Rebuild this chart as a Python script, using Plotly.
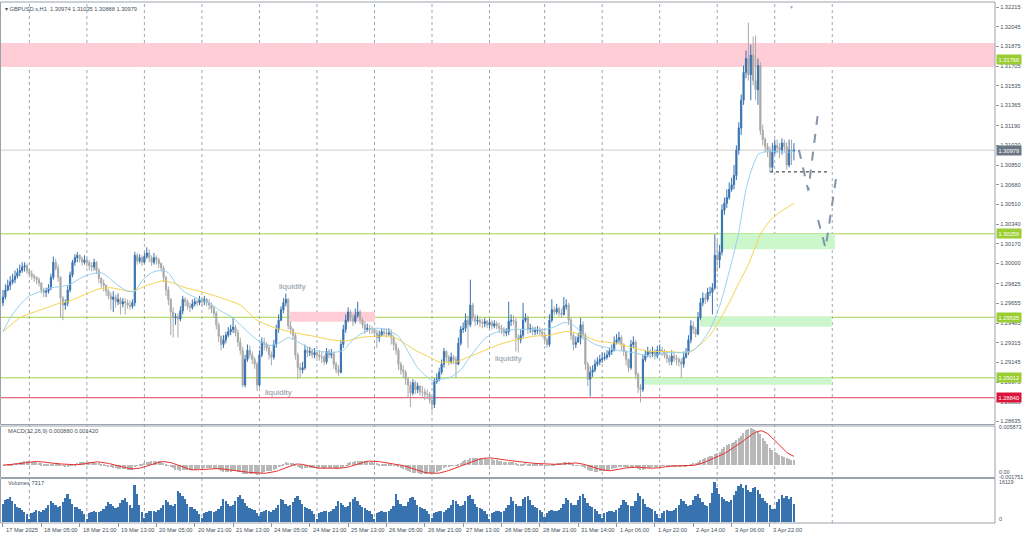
import plotly.graph_objects as go
import pandas as pd

# ---------------- data ----------------
first_open = 1.2966
close = [
 1.2971,1.2977,1.2981,1.2984,1.2986,1.2989,1.2992,1.2994,1.2997,1.2998,
 1.2994,1.2991,1.2989,1.2988,1.2986,1.2983,1.2977,1.2975,1.2976,1.2979,
 1.2988,1.3001,1.2996,1.2988,1.2970,1.2964,1.2966,1.2977,1.2990,1.3001,
 1.3005,1.3007,1.3004,1.3001,1.3003,1.3001,1.2998,1.2997,1.3001,1.2994,
 1.2987,1.2983,1.2981,1.2976,1.2972,1.2969,1.2971,1.2967,1.2969,1.2965,
 1.2967,1.2966,1.2964,1.2963,1.2966,1.3007,1.3002,1.3005,1.3001,1.3006,
 1.3009,1.3005,1.3001,1.3005,1.3003,1.3000,1.2996,1.2988,1.2977,1.2969,
 1.2958,1.2953,1.2954,1.2952,1.2959,1.2969,1.2967,1.2963,1.2962,1.2965,
 1.2967,1.2966,1.2969,1.2967,1.2969,1.2966,1.2964,1.2961,1.2957,1.2947,
 1.2937,1.2930,1.2934,1.2938,1.2941,1.2943,1.2945,1.2940,1.2932,1.2925,
 1.2895,1.2917,1.2925,1.2921,1.2917,1.2913,1.2895,1.2921,1.2932,1.2930,
 1.2927,1.2921,1.2919,1.2930,1.2943,1.2951,1.2960,1.2966,1.2969,1.2946,
 1.2943,1.2938,1.2921,1.2910,1.2908,1.2910,1.2925,1.2923,1.2924,1.2921,
 1.2923,1.2921,1.2919,1.2919,1.2915,1.2924,1.2921,1.2922,1.2913,1.2908,
 1.2906,1.2930,1.2943,1.2951,1.2958,1.2953,1.2950,1.2955,1.2958,1.2951,
 1.2947,1.2943,1.2944,1.2943,1.2943,1.2940,1.2936,1.2938,1.2941,1.2940,
 1.2939,1.2940,1.2936,1.2930,1.2925,1.2913,1.2908,1.2906,1.2900,1.2895,
 1.2888,1.2897,1.2891,1.2894,1.2889,1.2889,1.2887,1.2887,1.2882,1.2878,
 1.2898,1.2900,1.2906,1.2913,1.2924,1.2919,1.2915,1.2919,1.2917,1.2913,
 1.2931,1.2943,1.2944,1.2951,1.2947,1.2964,1.2953,1.2950,1.2951,1.2949,
 1.2948,1.2950,1.2947,1.2949,1.2946,1.2948,1.2946,1.2944,1.2943,1.2940,
 1.2941,1.2950,1.2951,1.2950,1.2936,1.2934,1.2938,1.2951,1.2953,1.2943,
 1.2944,1.2941,1.2942,1.2943,1.2941,1.2939,1.2934,1.2930,1.2951,1.2960,
 1.2958,1.2961,1.2957,1.2956,1.2963,1.2964,1.2951,1.2938,1.2930,1.2932,
 1.2936,1.2947,1.2938,1.2913,1.2900,1.2906,1.2908,1.2913,1.2915,1.2917,
 1.2918,1.2919,1.2921,1.2924,1.2925,1.2932,1.2934,1.2936,1.2930,1.2924,
 1.2917,1.2910,1.2930,1.2932,1.2904,1.2893,1.2891,1.2917,1.2921,1.2924,
 1.2922,1.2924,1.2920,1.2925,1.2925,1.2924,1.2921,1.2918,1.2915,1.2920,
 1.2918,1.2917,1.2915,1.2913,1.2919,1.2923,1.2934,1.2946,1.2943,1.2939,
 1.2953,1.2966,1.2970,1.2969,1.2975,1.2975,1.2979,1.3007,1.3003,1.3010,
 1.3046,1.3052,1.3057,1.3064,1.3068,1.3076,1.3098,1.3117,1.3141,1.3165,
 1.3177,1.3163,1.3180,1.3158,1.3150,1.3171,1.3115,1.3107,1.3101,1.3098,
 1.3083,1.3096,1.3102,1.3100,1.3098,1.3104,1.3101,1.3085,1.3098,1.3097,1.3098]
high = [
 1.2977,1.2982,1.2986,1.2989,1.2991,1.2994,1.2996,1.2999,1.3001,1.3001,
 1.3000,1.2995,1.2994,1.2991,1.2989,1.2988,1.2984,1.2979,1.2979,1.2982,
 1.2991,1.3006,1.3004,1.2999,1.2989,1.2972,1.2969,1.2981,1.2993,1.3003,
 1.3008,1.3010,1.3008,1.3006,1.3007,1.3005,1.3003,1.3001,1.3004,1.3002,
 1.2996,1.2988,1.2986,1.2982,1.2978,1.2975,1.2976,1.2973,1.2974,1.2971,
 1.2970,1.2970,1.2969,1.2968,1.2969,1.3010,1.3009,1.3008,1.3007,1.3009,
 1.3014,1.3012,1.3007,1.3009,1.3007,1.3005,1.3001,1.2998,1.2989,1.2980,
 1.2970,1.2962,1.2957,1.2957,1.2963,1.2972,1.2971,1.2969,1.2966,1.2969,
 1.2970,1.2969,1.2972,1.2971,1.2972,1.2970,1.2969,1.2966,1.2963,1.2959,
 1.2949,1.2938,1.2938,1.2941,1.2945,1.2947,1.2953,1.2947,1.2943,1.2936,
 1.2928,1.2921,1.2930,1.2929,1.2924,1.2919,1.2915,1.2925,1.2936,1.2936,
 1.2932,1.2930,1.2924,1.2934,1.2947,1.2956,1.2963,1.2970,1.2974,1.2970,
 1.2950,1.2944,1.2940,1.2923,1.2914,1.2915,1.2930,1.2928,1.2928,1.2926,
 1.2927,1.2925,1.2925,1.2924,1.2921,1.2927,1.2926,1.2926,1.2924,1.2915,
 1.2912,1.2934,1.2947,1.2956,1.2962,1.2960,1.2956,1.2961,1.2967,1.2960,
 1.2953,1.2950,1.2948,1.2947,1.2946,1.2944,1.2943,1.2942,1.2944,1.2944,
 1.2944,1.2944,1.2943,1.2938,1.2932,1.2927,1.2915,1.2912,1.2908,1.2902,
 1.2898,1.2900,1.2899,1.2897,1.2895,1.2894,1.2892,1.2891,1.2889,1.2885,
 1.2901,1.2905,1.2910,1.2917,1.2927,1.2925,1.2921,1.2923,1.2921,1.2920,
 1.2936,1.2946,1.2949,1.2957,1.2955,1.2986,1.2966,1.2956,1.2955,1.2953,
 1.2952,1.2953,1.2951,1.2952,1.2951,1.2951,1.2950,1.2949,1.2947,1.2945,
 1.2944,1.2967,1.2956,1.2955,1.2953,1.2939,1.2943,1.2966,1.2957,1.2955,
 1.2948,1.2946,1.2945,1.2946,1.2945,1.2944,1.2941,1.2936,1.2956,1.2969,
 1.2963,1.2965,1.2963,1.2961,1.2971,1.2969,1.2966,1.2953,1.2940,1.2937,
 1.2940,1.2953,1.2950,1.2940,1.2915,1.2911,1.2912,1.2917,1.2919,1.2921,
 1.2923,1.2923,1.2925,1.2927,1.2930,1.2937,1.2939,1.2941,1.2938,1.2931,
 1.2925,1.2918,1.2934,1.2937,1.2934,1.2906,1.2896,1.2921,1.2925,1.2928,
 1.2926,1.2928,1.2926,1.2929,1.2930,1.2928,1.2926,1.2924,1.2921,1.2925,
 1.2923,1.2921,1.2919,1.2918,1.2924,1.2927,1.2938,1.2951,1.2950,1.2945,
 1.2958,1.2970,1.2975,1.2974,1.2979,1.2980,1.2983,1.3025,1.3020,1.3016,
 1.3051,1.3057,1.3064,1.3070,1.3074,1.3085,1.3102,1.3122,1.3146,1.3171,
 1.3184,1.3208,1.3189,1.3196,1.3197,1.3177,1.3174,1.3120,1.3109,1.3104,
 1.3101,1.3104,1.3107,1.3107,1.3104,1.3108,1.3107,1.3105,1.3107,1.3107,1.3104]
low = [
 1.2963,1.2969,1.2976,1.2977,1.2982,1.2983,1.2987,1.2989,1.2992,1.2993,
 1.2991,1.2988,1.2986,1.2984,1.2982,1.2980,1.2974,1.2971,1.2971,1.2974,
 1.2977,1.2986,1.2994,1.2984,1.2953,1.2951,1.2960,1.2963,1.2975,1.2988,
 1.2998,1.3001,1.3001,1.2998,1.2999,1.2997,1.2994,1.2993,1.2994,1.2991,
 1.2983,1.2979,1.2976,1.2972,1.2969,1.2960,1.2958,1.2962,1.2964,1.2956,
 1.2962,1.2956,1.2961,1.2960,1.2961,1.2963,1.2999,1.3000,1.2998,1.3000,
 1.3004,1.3001,1.2998,1.2999,1.2999,1.2996,1.2993,1.2984,1.2972,1.2964,
 1.2938,1.2936,1.2947,1.2936,1.2950,1.2956,1.2963,1.2960,1.2958,1.2960,
 1.2963,1.2963,1.2964,1.2963,1.2964,1.2963,1.2960,1.2957,1.2953,1.2943,
 1.2932,1.2925,1.2927,1.2931,1.2936,1.2938,1.2940,1.2937,1.2928,1.2921,
 1.2893,1.2893,1.2915,1.2918,1.2913,1.2909,1.2890,1.2893,1.2919,1.2925,
 1.2924,1.2917,1.2912,1.2917,1.2927,1.2940,1.2950,1.2957,1.2963,1.2943,
 1.2939,1.2934,1.2917,1.2900,1.2901,1.2905,1.2908,1.2919,1.2920,1.2918,
 1.2918,1.2918,1.2916,1.2914,1.2912,1.2913,1.2918,1.2918,1.2909,1.2905,
 1.2903,1.2905,1.2927,1.2940,1.2949,1.2950,1.2946,1.2948,1.2953,1.2948,
 1.2944,1.2939,1.2941,1.2939,1.2939,1.2937,1.2927,1.2932,1.2937,1.2937,
 1.2936,1.2937,1.2930,1.2925,1.2921,1.2908,1.2904,1.2901,1.2895,1.2884,
 1.2876,1.2886,1.2887,1.2888,1.2886,1.2885,1.2882,1.2883,1.2879,1.2872,
 1.2875,1.2896,1.2898,1.2904,1.2910,1.2915,1.2912,1.2913,1.2913,1.2901,
 1.2912,1.2929,1.2940,1.2941,1.2927,1.2945,1.2950,1.2946,1.2947,1.2945,
 1.2944,1.2945,1.2944,1.2944,1.2943,1.2944,1.2943,1.2940,1.2939,1.2937,
 1.2937,1.2938,1.2946,1.2947,1.2924,1.2923,1.2931,1.2936,1.2949,1.2939,
 1.2940,1.2938,1.2938,1.2939,1.2938,1.2936,1.2930,1.2927,1.2928,1.2949,
 1.2955,1.2956,1.2954,1.2953,1.2955,1.2960,1.2947,1.2934,1.2925,1.2927,
 1.2932,1.2930,1.2934,1.2908,1.2894,1.2885,1.2902,1.2906,1.2911,1.2912,
 1.2914,1.2916,1.2917,1.2919,1.2921,1.2924,1.2930,1.2931,1.2925,1.2920,
 1.2912,1.2906,1.2908,1.2927,1.2900,1.2888,1.2880,1.2889,1.2915,1.2919,
 1.2918,1.2919,1.2917,1.2918,1.2921,1.2920,1.2918,1.2914,1.2912,1.2912,
 1.2915,1.2912,1.2911,1.2901,1.2910,1.2918,1.2921,1.2931,1.2939,1.2936,
 1.2938,1.2951,1.2963,1.2965,1.2967,1.2972,1.2956,1.2977,1.2993,1.2996,
 1.3007,1.3042,1.3048,1.3055,1.3062,1.3064,1.3072,1.3094,1.3111,1.3137,
 1.3160,1.3158,1.3141,1.3154,1.3141,1.3137,1.3111,1.3102,1.3096,1.3092,
 1.3079,1.3079,1.3094,1.3095,1.3091,1.3094,1.3096,1.3081,1.3083,1.3085,1.3089]
volume = [
 7200,8800,9500,10200,8600,7400,6300,5900,5100,4300,3200,
 1500,3800,4300,4800,4500,4200,4900,5700,6800,8600,7900,6800,6200,6500,8200,9800,11200,9300,7500,6100,6000,5400,4600,3400,
 1400,3600,4100,4500,4300,4100,4600,5400,6600,8100,7500,6400,5900,6100,7700,8900,9600,8200,6800,5900,14800,11200,6800,4100,
 1700,3900,4400,4700,4600,4300,4800,5600,6900,8800,8200,7100,6600,7400,12600,11800,10500,9400,7200,6300,6000,5500,4700,3500,
 1600,3700,4200,4600,4400,4200,4700,5500,6700,9200,8400,7300,6500,6800,8600,10100,10800,9500,7600,6400,5800,5300,4800,3900,
 2400,4000,4400,4800,4500,4300,4900,5800,7000,9400,8800,7500,6600,6900,8300,9900,10400,9000,7300,6200,5900,5200,4500,3400,
 1500,3700,4200,4600,4400,4200,4700,5500,6600,8400,7800,6800,6200,6400,8000,9500,10100,8700,7000,6000,5700,5100,4400,3300,
 1400,3600,4100,4500,4300,4100,4600,5400,6700,11500,9000,7300,6400,6600,8200,9700,10300,8900,7100,6000,5800,5200,4500,3300,
 1600,3800,4300,4700,4500,4300,4800,5700,6900,9100,8500,7200,6500,6800,8700,10500,10900,9200,7300,6200,5900,5300,4600,3500,
 1500,3700,4200,4600,4400,4200,4700,5600,6800,10200,8600,7300,6500,6700,9400,10200,10600,9000,7100,6000,5700,5000,4200,
 2200,3900,4400,4800,4600,4400,5000,5900,7200,9600,8900,7600,6800,7000,8800,10600,11200,9600,7700,6400,6000,5300,4600,3500,
 1600,3800,4300,4700,4500,4300,4800,5700,6900,9000,8300,7100,6400,6700,8500,11800,10700,9200,7300,6200,5800,5200,4500,3400,
 1700,3900,4400,4800,4600,4400,4900,5800,7100,9300,8600,7400,6700,7000,8900,10600,11300,9800,8100,7000,6500,7800,11800,16119,
 13800,11500,10200,9300,8600,8200,9100,10800,12600,14500,15200,13900,14800,13100,12000,13600,14200,12800,11400,9800,8700,7900,6800,5200,
 5200,8200,9500,10800,9800,10500,9200,10300,7317]

# moving averages (bar index, price)
fast_bars = [0,3,7,11,16,20,24,28,33,37,41,44,48,52,55,58,62,66,69,72,76,82,86,90,96,100,106,111,115,119,
             124,130,137,142,146,150,155,160,165,169,173,179,183,187,191,194,197,201,205,210,215,221,226,230,234,237,240,243,247,253,
             256,263,270,277,284,288,291,295,299,303,305,307,310,312,315,317,321,327,330]
fast_vals = [1.2941,1.2953,1.2964,1.2972,1.2976,1.2979,1.2980,1.2982,1.2988,1.2991,
             1.2992,1.2988,1.2981,1.2976,1.2976,1.2985,1.2992,1.2994,1.2992,1.2983,
             1.2975,1.2969,1.2966,1.2960,1.2953,1.2945,1.2934,1.2929,1.2931,1.2936,
             1.2931,1.2925,1.2923,1.2925,1.2934,1.2940,1.2944,1.2943,1.2937,1.2924,
             1.2910,1.2899,1.2900,1.2902,1.2908,1.2917,1.2925,1.2935,1.2940,1.2942,
             1.2943,1.2943,1.2943,1.2945,1.2949,1.2948,1.2943,1.2936,1.2930,1.2927,
             1.2925,1.2923,1.2920,1.2923,1.2923,1.2925,1.2931,1.2943,1.2963,1.2993,
             1.3009,1.3027,1.3064,1.3079,1.3094,1.3096,1.3097,1.3096,1.3097]
slow_bars = [0,7,13,20,24,27,34,40,45,50,54,60,67,71,76,82,90,99,106,114,122,130,137,143,149,155,162,166,172,178,
             182,189,194,200,207,214,221,228,234,237,243,248,256,263,270,277,284,287,291,295,299,303,307,311,316,320,324,330]
slow_vals = [1.2941,1.2953,1.2958,1.2963,1.2966,1.2967,1.2973,1.2978,1.2979,1.2977,
             1.2976,1.2981,1.2985,1.2983,1.2979,1.2976,1.2971,1.2964,1.2951,1.2944,
             1.2940,1.2937,1.2934,1.2933,1.2936,1.2937,1.2937,1.2933,1.2925,1.2919,
             1.2915,1.2915,1.2919,1.2924,1.2930,1.2934,1.2937,1.2938,1.2941,1.2941,
             1.2937,1.2933,1.2931,1.2927,1.2924,1.2924,1.2923,1.2924,1.2930,1.2938,
             1.2951,1.2966,1.2983,1.2999,1.3025,1.3037,1.3044,1.3052]

time_labels = ["17 Mar 2025","18 Mar 05:00","18 Mar 21:00","19 Mar 13:00","20 Mar 05:00","20 Mar 21:00",
               "21 Mar 13:00","24 Mar 05:00","24 Mar 21:00","25 Mar 13:00","26 Mar 05:00","26 Mar 21:00",
               "27 Mar 13:00","28 Mar 05:00","28 Mar 21:00","31 Mar 14:00","1 Apr 06:00","1 Apr 22:00",
               "2 Apr 14:00","3 Apr 06:00","3 Apr 22:00"]
label_bars = [0,16,32,48,64,80,96,112,128,144,160,176,192,208,224,240,256,272,288,304,320]
day_bars = [11,35,59,83,107,131,155,179,203,226,250,274,298,322,346]

price_ticks = [1.32215,1.32045,1.31875,1.31705,1.31535,1.31365,1.31190,1.31020,1.30850,1.30680,1.30510,
               1.30340,1.30170,1.30000,1.29825,1.29655,1.29485,1.29315,1.29145,1.28975,1.28805,1.28635]
green_levels = [1.31766, 1.30256, 1.29535, 1.29012]
red_level = 1.28840
last_price = 1.30979

supply_zone = (1.31697, 1.31904)
small_pink = (119.7, 155.2, 1.29496, 1.29583)
green_zones = [(299.1, 347.1, 1.30122, 1.30256), (290.8, 345.8, 1.29453, 1.29539), (267.0, 345.8, 1.28952, 1.29013)]
stop_line_x = [320, 345]
stop_line_y = [1.30791, 1.30791]
proj1_x = [332.1, 336.0, 340.1]
proj1_y = [1.30981, 1.30629, 1.31311]
proj2_x = [340.1, 343.2, 347.8]
proj2_y = [1.30376, 1.30132, 1.30765]
liquidity_notes = [(121.0, 1.29798), (115.1, 1.28883), (211.1, 1.29177)]

macd_max, macd_min = 0.005873, -0.001751
vol_max = 16119

# ---------------- derived ----------------
n = len(close)
xs = list(range(n))
opens = [first_open] + close[:-1]
high = [max(h, o, c) for h, o, c in zip(high, opens, close)]
low = [min(l, o, c) for l, o, c in zip(low, opens, close)]
cs = pd.Series(close)
macd = cs.ewm(span=12, adjust=False).mean() - cs.ewm(span=26, adjust=False).mean()
signal = macd.rolling(9, min_periods=1).mean()

W, H = 1024, 537
def py(p):
    return 1 - p / H
def px(p):
    return p / W

FONT = "Liberation Sans"
TXT = "#46515c"
SMALL = 5.7

fig = go.Figure()
fig.add_trace(go.Candlestick(
    x=xs, open=opens, high=high, low=low, close=close,
    increasing=dict(line=dict(color="#3873b0", width=1), fillcolor="#3873b0"),
    decreasing=dict(line=dict(color="#a9a9a9", width=1), fillcolor="#a9a9a9"),
    whiskerwidth=0, xaxis="x", yaxis="y", hoverinfo="skip"))
fig.add_trace(go.Scatter(x=slow_bars, y=slow_vals, mode="lines", xaxis="x", yaxis="y",
                         line=dict(color="#f5d24a", width=1, shape="spline", smoothing=0.6)))
fig.add_trace(go.Scatter(x=fast_bars, y=fast_vals, mode="lines", xaxis="x", yaxis="y",
                         line=dict(color="#96d0f0", width=1, shape="spline", smoothing=0.6)))
fig.add_trace(go.Scatter(x=stop_line_x, y=stop_line_y, mode="lines", xaxis="x", yaxis="y",
                         line=dict(color="#222222", width=1, dash="dot")))
for pxs, pys in [(proj1_x, proj1_y), (proj2_x, proj2_y)]:
    fig.add_trace(go.Scatter(x=pxs, y=pys, mode="lines", xaxis="x", yaxis="y",
                             line=dict(color="#8393a8", width=2, dash="dash")))
fig.add_trace(go.Bar(x=xs, y=macd, xaxis="x", yaxis="y2", width=0.5,
                     marker=dict(color="#b8b8b8", line=dict(width=0))))
fig.add_trace(go.Scatter(x=xs, y=signal, mode="lines", xaxis="x", yaxis="y2",
                         line=dict(color="#e8302c", width=1)))
fig.add_trace(go.Bar(x=xs, y=volume, xaxis="x", yaxis="y3", width=0.72,
                     marker=dict(color="#3873b0", line=dict(width=0))))

shapes = []
shapes.append(dict(type="rect", xref="x", yref="y", x0=-0.83, x1=413.9, y0=supply_zone[0], y1=supply_zone[1],
                   fillcolor="#ffcdd6", line=dict(width=0), layer="below"))
shapes.append(dict(type="rect", xref="x", yref="y", x0=small_pink[0], x1=small_pink[1], y0=small_pink[2], y1=small_pink[3],
                   fillcolor="#ffcdd6", line=dict(width=0), layer="below"))
for z in green_zones:
    shapes.append(dict(type="rect", xref="x", yref="y", x0=z[0], x1=z[1], y0=z[2], y1=z[3],
                       fillcolor="#ccf7cc", line=dict(width=0), layer="below"))
for b in day_bars:
    shapes.append(dict(type="line", xref="x", yref="paper", x0=b, x1=b, y0=py(523), y1=py(3),
                       line=dict(color="#9ea8b3", width=1, dash="dot"), layer="below"))
shapes.append(dict(type="line", xref="paper", yref="y", x0=px(1), x1=px(995), y0=last_price, y1=last_price,
                   line=dict(color="#cfcfcf", width=1), layer="below"))
for lv in green_levels:
    shapes.append(dict(type="line", xref="paper", yref="y", x0=px(1), x1=px(995), y0=lv, y1=lv,
                       line=dict(color="#a4d24a", width=1), layer="below"))
shapes.append(dict(type="line", xref="paper", yref="y", x0=px(1), x1=px(995), y0=red_level, y1=red_level,
                   line=dict(color="#e0405c", width=1), layer="below"))
for top, bot in [(2, 424.5), (426, 477.5), (478.5, 523)]:
    shapes.append(dict(type="rect", xref="paper", yref="paper", x0=px(0.5), x1=px(995), y0=py(bot), y1=py(top),
                       line=dict(color="#9aa3ad", width=1), fillcolor="rgba(0,0,0,0)", layer="above"))

ann = []
ann.append(dict(x=px(3), y=py(9), xref="paper", yref="paper", xanchor="left", yanchor="middle", showarrow=False,
                text="▾ GBPUSD.s,H1  1.30974 1.31035 1.30888 1.30979", font=dict(family=FONT, size=SMALL, color=TXT)))
ann.append(dict(x=px(6), y=py(431), xref="paper", yref="paper", xanchor="left", yanchor="middle", showarrow=False,
                text="MACD(12,26,9) 0.000880 0.001420", font=dict(family=FONT, size=SMALL, color=TXT)))
ann.append(dict(x=px(6), y=py(483), xref="paper", yref="paper", xanchor="left", yanchor="middle", showarrow=False,
                text="Volumes 7317", font=dict(family=FONT, size=SMALL, color=TXT)))
for (lx, ly) in liquidity_notes:
    ann.append(dict(x=lx, y=ly, xref="x", yref="y", showarrow=False, text="liquidity",
                    font=dict(family=FONT, size=8, color="#8894a0")))
for lv in green_levels:
    ann.append(dict(x=px(995.5), y=lv, xref="paper", yref="y", xanchor="left", yanchor="middle", showarrow=False,
                    text=f"{lv:.5f}", bgcolor="#9acd32", borderpad=1.6, font=dict(family=FONT, size=SMALL, color="white")))
ann.append(dict(x=px(995.5), y=red_level, xref="paper", yref="y", xanchor="left", yanchor="middle", showarrow=False,
                text=f"{red_level:.5f}", bgcolor="#dc143c", borderpad=1.6, font=dict(family=FONT, size=SMALL, color="white")))
ann.append(dict(x=px(995.5), y=last_price, xref="paper", yref="y", xanchor="left", yanchor="middle", showarrow=False,
                text=f"{last_price:.5f}", bgcolor="#6a7683", borderpad=1.6, font=dict(family=FONT, size=SMALL, color="white")))
for txt, yy in [(f"{macd_max:.6f}", 426.8), ("0.00", 472.0), (f"{macd_min:.6f}", 476.8),
                (str(vol_max), 481.5), ("0", 519)]:
    ann.append(dict(x=px(997), y=py(yy), xref="paper", yref="paper", xanchor="left", yanchor="middle", showarrow=False,
                    text=txt, font=dict(family=FONT, size=5.4, color=TXT)))
for b, t in zip(label_bars, time_labels):
    ann.append(dict(x=b, y=py(529.5), xref="x", yref="paper", xanchor="left", yanchor="middle", showarrow=False,
                    xshift=1, text=t, font=dict(family=FONT, size=SMALL, color=TXT)))
ann.append(dict(x=px(796), y=py(2.5), xref="paper", yref="paper", showarrow=False, text="▼",
                font=dict(family=FONT, size=5, color="#a0a8b0")))

fig.update_layout(
    width=W, height=H, margin=dict(l=0, r=0, t=0, b=0),
    paper_bgcolor="white", plot_bgcolor="white", showlegend=False, hovermode=False,
    bargap=0,
    xaxis=dict(domain=[px(1), px(995)], range=[-0.83, 413.9], anchor="y3", showticklabels=False,
               ticks="outside", tickvals=label_bars, ticklen=4, tickcolor="#8f99a3",
               showgrid=False, zeroline=False, showline=False, rangeslider=dict(visible=False)),
    yaxis=dict(domain=[py(424), py(3)], range=[1.28613, 1.32250], anchor="x", side="right",
               tickvals=price_ticks, ticktext=[f"{v:.5f}" for v in price_ticks],
               ticks="outside", ticklen=3, tickcolor="#8f99a3",
               tickfont=dict(family=FONT, size=SMALL, color=TXT),
               showgrid=False, zeroline=False, showline=False),
    yaxis2=dict(domain=[py(476.6), py(426.8)], range=[macd_min, macd_max], anchor="x", side="right",
                showticklabels=False, ticks="", showgrid=False, zeroline=False, showline=False),
    yaxis3=dict(domain=[py(522), py(481.5)], range=[0, vol_max], anchor="x", side="right",
                showticklabels=False, ticks="", showgrid=False, zeroline=False, showline=False),
    shapes=shapes, annotations=ann,
)
fig.write_html("out.html", config={"displayModeBar": False},
               post_script="document.body.style.margin='0px';document.body.style.padding='0px';document.body.style.overflow='hidden';")
